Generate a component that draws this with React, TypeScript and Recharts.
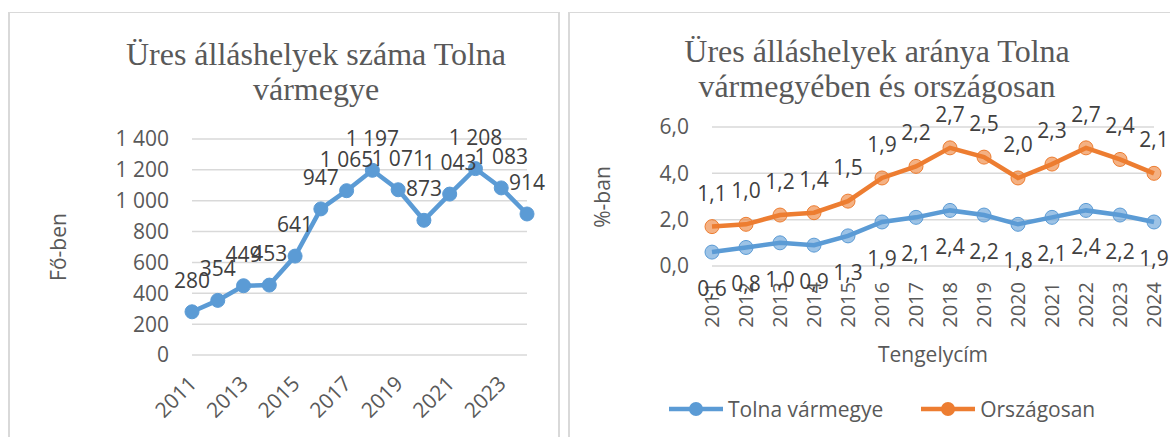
import React from "react";
import {
  LineChart,
  Line,
  AreaChart,
  Area,
  XAxis,
  YAxis,
  CartesianGrid,
  LabelList,
  Legend,
} from "recharts";

const years = ["2011", "2012", "2013", "2014", "2015", "2016", "2017", "2018", "2019", "2020", "2021", "2022", "2023", "2024"];
const tolnaCount = [280, 354, 449, 453, 641, 947, 1065, 1197, 1071, 873, 1043, 1208, 1083, 914];
const tolnaRate = [0.6, 0.8, 1.0, 0.9, 1.3, 1.9, 2.1, 2.4, 2.2, 1.8, 2.1, 2.4, 2.2, 1.9];
const nationalRate = [1.1, 1.0, 1.2, 1.4, 1.5, 1.9, 2.2, 2.7, 2.5, 2.0, 2.3, 2.7, 2.4, 2.1];
const countTicks = [0, 200, 400, 600, 800, 1000, 1200, 1400];
const rateTicks = [0, 2, 4, 6];
const seriesNames = ["Tolna vármegye", "Országosan"];

const BLUE = "#5b9bd5";
const ORANGE = "#ed7d31";
const GRID = "#d9d9d9";
const AXIS_TEXT = "#595959";
const LABEL_TEXT = "#404040";
const SANS = "'Open Sans', sans-serif";
const SERIF = "'Liberation Serif', 'Times New Roman', serif";

const countData = years.map((year, i) => ({ year, count: tolnaCount[i] }));
const rateData = years.map((year, i) => ({ year, tolna: tolnaRate[i], national: nationalRate[i] }));

const spaced = (v: number) => String(v).replace(/\B(?=(\d{3})+(?!\d))/g, " ");
const comma = (v: number) => Number(v).toFixed(1).replace(".", ",");

function SlantTick({ x, y, payload }: any) {
  return (
    <text
      transform={`translate(${x + 6},${y + 22}) rotate(-45)`}
      textAnchor="end"
      fontSize={21}
      fontFamily={SANS}
      fill={AXIS_TEXT}
    >
      {payload.value}
    </text>
  );
}

function UpTick({ x, y, payload }: any) {
  return (
    <text
      transform={`translate(${x + 7},${y + 8}) rotate(-90)`}
      textAnchor="end"
      fontSize={20}
      fontFamily={SANS}
      fill={AXIS_TEXT}
    >
      {payload.value}
    </text>
  );
}

function RateLegend({ payload }: any) {
  const items = [...(payload || [])].sort(
    (a: any, b: any) => seriesNames.indexOf(a.value) - seriesNames.indexOf(b.value)
  );
  return (
    <div style={{ display: "flex", alignItems: "center", fontFamily: SANS, fontSize: 21, color: AXIS_TEXT }}>
      {items.map((item: any, i: number) => (
        <div key={item.value} style={{ display: "flex", alignItems: "center", marginRight: i === 0 ? 38 : 0 }}>
          <svg width={54} height={20} style={{ marginRight: 5 }}>
            <line x1={0} y1={10} x2={54} y2={10} stroke={item.color} strokeWidth={4.5} />
            <circle cx={27} cy={10} r={7} fill={item.color} />
          </svg>
          <span>{item.value}</span>
        </div>
      ))}
    </div>
  );
}

export default function App() {
  const tickStyle = { fontSize: 21, fontFamily: SANS, fill: AXIS_TEXT };
  const labelStyle = { fontSize: 21, fontFamily: SANS, fill: LABEL_TEXT };

  return (
    <div style={{ position: "fixed", left: 0, top: 0, width: 1170, height: 437, background: "#fff", overflow: "hidden" }}>
      <svg width={1170} height={437} style={{ position: "absolute", left: 0, top: 0 }}>
        <line x1={9} y1={12.5} x2={559} y2={12.5} stroke={GRID} strokeWidth={1} />
        <line x1={9} y1={12} x2={9} y2={437} stroke={GRID} strokeWidth={2} />
        <line x1={559} y1={12} x2={559} y2={437} stroke={GRID} strokeWidth={2} />
        <line x1={569} y1={12.5} x2={1170} y2={12.5} stroke={GRID} strokeWidth={1} />
        <line x1={569} y1={12} x2={569} y2={437} stroke={GRID} strokeWidth={2} />

        <text x={316} y={65} textAnchor="middle" fontSize={32} fontFamily={SERIF} fill={AXIS_TEXT}>
          Üres álláshelyek száma Tolna
        </text>
        <text x={316} y={100} textAnchor="middle" fontSize={32} fontFamily={SERIF} fill={AXIS_TEXT}>
          vármegye
        </text>
        <text transform="translate(66,247) rotate(-90)" textAnchor="middle" fontSize={21} fontFamily={SANS} fill={AXIS_TEXT}>
          Fő-ben
        </text>

        <text x={877} y={62} textAnchor="middle" fontSize={32} fontFamily={SERIF} fill={AXIS_TEXT}>
          Üres álláshelyek aránya Tolna
        </text>
        <text x={877} y={97} textAnchor="middle" fontSize={32} fontFamily={SERIF} fill={AXIS_TEXT}>
          vármegyében és országosan
        </text>
        <text transform="translate(610,197) rotate(-90)" textAnchor="middle" fontSize={21} fontFamily={SANS} fill={AXIS_TEXT}>
          %-ban
        </text>
        <text x={933} y={362} textAnchor="middle" fontSize={21} fontFamily={SANS} fill={AXIS_TEXT}>
          Tengelycím
        </text>
      </svg>

      <div style={{ position: "absolute", left: 0, top: 0 }}>
        <LineChart width={570} height={437} data={countData} margin={{ top: 139, right: 43, bottom: 12, left: 112 }}>
          <CartesianGrid vertical={false} stroke={GRID} strokeWidth={1.5} />
          <XAxis
            dataKey="year"
            axisLine={false}
            tickLine={false}
            interval={1}
            height={70}
            tick={<SlantTick />}
          />
          <YAxis
            domain={[0, 1400]}
            ticks={countTicks}
            axisLine={false}
            tickLine={false}
            width={80}
            tickMargin={17}
            tick={tickStyle}
            tickFormatter={spaced}
          />
          <Line
            type="linear"
            dataKey="count"
            stroke={BLUE}
            strokeWidth={4.5}
            dot={{ r: 7, fill: BLUE, stroke: BLUE, strokeWidth: 1 }}
            activeDot={false}
            isAnimationActive={false}
          >
            <LabelList dataKey="count" position="top" offset={24} formatter={spaced} style={labelStyle} />
          </Line>
        </LineChart>
      </div>

      <div style={{ position: "absolute", left: 570, top: 0 }}>
        <AreaChart width={600} height={437} data={rateData} margin={{ top: 127, right: 16, bottom: 111, left: 82 }}>
          <CartesianGrid vertical={false} stroke={GRID} strokeWidth={1.5} />
          <XAxis
            dataKey="year"
            axisLine={false}
            tickLine={false}
            interval={0}
            height={60}
            tick={<UpTick />}
          />
          <YAxis
            domain={[0, 6]}
            ticks={rateTicks}
            axisLine={false}
            tickLine={false}
            width={60}
            tickMargin={17}
            tick={tickStyle}
            tickFormatter={comma}
          />
          <Legend
            layout="horizontal"
            verticalAlign="middle"
            align="center"
            wrapperStyle={{ left: 99, top: 395, width: 480 }}
            content={<RateLegend />}
          />
          <Area
            type="linear"
            dataKey="tolna"
            name={seriesNames[0]}
            stackId="rate"
            stroke={BLUE}
            strokeWidth={4.5}
            fill="none"
            dot={{ r: 7, fill: BLUE, stroke: BLUE, strokeWidth: 1 }}
            activeDot={false}
            isAnimationActive={false}
          >
            <LabelList dataKey="tolna" position="bottom" offset={29} formatter={comma} style={labelStyle} />
          </Area>
          <Area
            type="linear"
            dataKey="national"
            name={seriesNames[1]}
            stackId="rate"
            stroke={ORANGE}
            strokeWidth={4.5}
            fill="none"
            dot={{ r: 7, fill: ORANGE, stroke: ORANGE, strokeWidth: 1 }}
            activeDot={false}
            isAnimationActive={false}
          >
            <LabelList dataKey="national" position="top" offset={26} formatter={comma} style={labelStyle} />
          </Area>
        </AreaChart>
      </div>
    </div>
  );
}
